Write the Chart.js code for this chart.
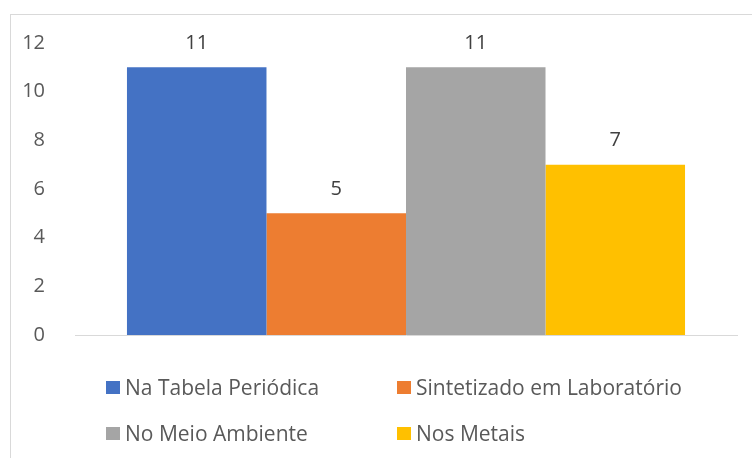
<!DOCTYPE html>
<html>
<head>
<meta charset="utf-8">
<script src="https://cdn.jsdelivr.net/npm/chart.js"></script>
<style>
  html, body { margin: 0; padding: 0; background: #fff; }
  #wrap { position: relative; width: 752px; height: 458px; overflow: hidden; font-family: "Open Sans", sans-serif; }
  #frame { position: absolute; left: 10px; top: 14px; width: 800px; height: 500px; border: 1px solid #d9d9d9; box-sizing: border-box; }
  #chart { position: absolute; left: 0; top: 0; }
  .leg { position: absolute; display: flex; align-items: center; font-size: 21px; color: #595959; white-space: nowrap; line-height: 1; }
  .leg span.box { display: inline-block; width: 14px; height: 13px; margin-right: 5px; }
</style>
</head>
<body>
<div id="wrap">
  <div id="frame"></div>
  <canvas id="chart" width="752" height="458"></canvas>
  <div id="legend"></div>
</div>
<script>
// Datos del gráfico
const categorias = [''];
const series = ['Na Tabela Periódica', 'Sintetizado em Laboratório', 'No Meio Ambiente', 'Nos Metais'];
const valores = [11, 5, 11, 7];
const colores = ['#4472C4', '#ED7D31', '#A5A5A5', '#FFC000'];
const yMax = 12;
const yPaso = 2;

// Etiquetas de valor encima de cada barra
const etiquetasPlugin = {
    id: 'etiquetas',
    afterDatasetsDraw(chart) {
        const ctx = chart.ctx;
        ctx.save();
        ctx.font = '20px "Open Sans"';
        ctx.fillStyle = '#404040';
        ctx.textAlign = 'center';
        ctx.textBaseline = 'middle';
        chart.data.datasets.forEach((ds, i) => {
            const meta = chart.getDatasetMeta(i);
            meta.data.forEach((bar, j) => {
                ctx.fillText(ds.data[j], bar.x, bar.y - 24);
            });
        });
        ctx.restore();
    }
};

new Chart(document.getElementById('chart'), {
    type: 'bar',
    data: {
        labels: categorias,
        datasets: series.map((nombre, i) => ({
            label: nombre,
            data: [valores[i]],
            backgroundColor: colores[i],
            borderWidth: 0,
            categoryPercentage: 0.843,
            barPercentage: 1
        }))
    },
    options: {
        responsive: false,
        animation: false,
        layout: { padding: { left: 15, right: 15, top: 43, bottom: 115 } },
        plugins: {
            legend: { display: false },
            tooltip: { enabled: false }
        },
        scales: {
            x: {
                grid: { display: false },
                border: { display: true, color: '#d9d9d9', width: 1 },
                ticks: { display: false }
            },
            y: {
                min: 0,
                max: yMax,
                grid: { display: false },
                border: { display: false },
                ticks: {
                    stepSize: yPaso,
                    padding: 22,
                    color: '#595959',
                    font: { family: 'Open Sans', size: 20 }
                },
                afterFit(scale) { scale.width = 60; }
            }
        }
    },
    plugins: [etiquetasPlugin]
});

// Leyenda en dos columnas
const legend = document.getElementById('legend');
const posX = [106, 397];
const posY = [387, 433];
series.forEach((nombre, i) => {
    const item = document.createElement('div');
    item.className = 'leg';
    item.style.left = posX[i % 2] + 'px';
    item.style.top = (posY[Math.floor(i / 2)] - 10) + 'px';
    item.style.height = '20px';
    item.innerHTML = '<span class="box" style="background:' + colores[i] + '"></span>' + nombre;
    legend.appendChild(item);
});
</script>
</body>
</html>
